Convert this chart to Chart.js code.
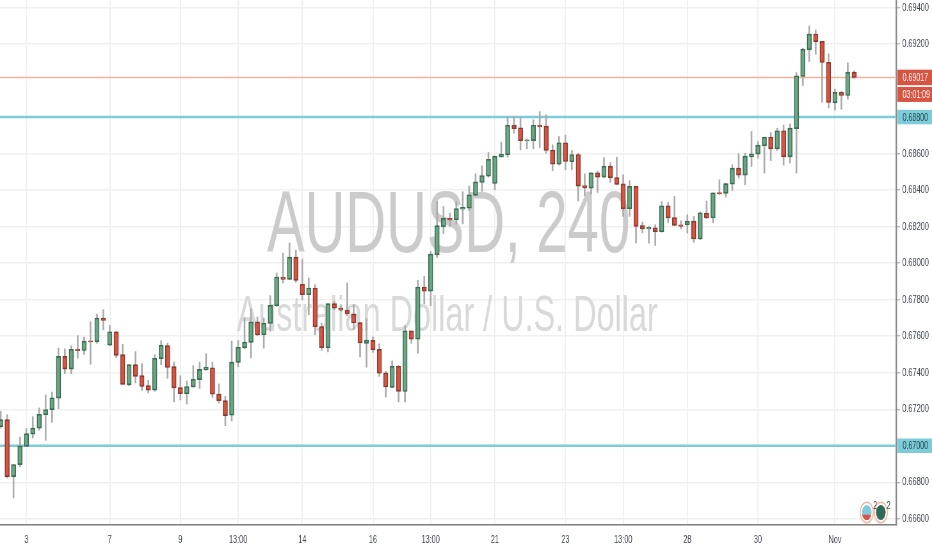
<!DOCTYPE html>
<html>
<head>
<meta charset="utf-8">
<title>AUDUSD, 240</title>
<script src="https://cdn.jsdelivr.net/npm/chart.js@4"></script>
<style>
  html, body { margin: 0; padding: 0; background: #fff; overflow: hidden; width: 932px; height: 550px; }
  /* reference picture is squeezed horizontally, so the whole chart is too */
  #chart { position: absolute; left: 0; top: 0; transform-origin: 0 0; transform: scaleX(0.64011); filter: blur(0.4px); }
</style>
</head>
<body>
<canvas id="chart" width="1456" height="550"></canvas>
<script>
var opens = [
  0.67105,0.67143,0.66831,0.66897,0.66997,0.67064,0.67096,0.67170,0.67198,0.67261,
  0.67489,0.67420,0.67530,0.67522,0.67575,0.67570,0.67699,0.67551,0.67624,0.67499,
  0.67334,0.67444,0.67384,0.67329,0.67305,0.67477,0.67548,0.67433,0.67318,0.67285,
  0.67322,0.67362,0.67415,0.67427,0.67283,0.67247,0.67167,0.67457,0.67537,0.67566,
  0.67678,0.67607,0.67670,0.67767,0.67924,0.67911,0.68033,0.67884,0.67827,0.67864,
  0.67652,0.67537,0.67778,0.67754,0.67743,0.67722,0.67674,0.67561,0.67577,0.67528,
  0.67399,0.67320,0.67435,0.67297,0.67629,0.67583,0.67869,0.67847,0.68046,0.68199,
  0.68245,0.68237,0.68296,0.68301,0.68371,0.68442,0.68476,0.68436,0.68582,0.68593,
  0.68755,0.68741,0.68670,0.68671,0.68755,0.68750,0.68619,0.68542,0.68659,0.68555,
  0.68595,0.68425,0.68411,0.68495,0.68471,0.68531,0.68469,0.68434,0.68298,0.68420,
  0.68205,0.68188,0.68194,0.68172,0.68314,0.68249,0.68210,0.68210,0.68230,0.68132,
  0.68274,0.68247,0.68387,0.68382,0.68433,0.68520,0.68482,0.68582,0.68597,0.68643,
  0.68690,0.68626,0.68725,0.68582,0.68737,0.69022,0.69168,0.69255,0.69215,0.69100,
  0.68878,0.68936,0.68918,0.69046
];
var closes = [
  0.67143,0.66831,0.66897,0.66999,0.67066,0.67097,0.67172,0.67198,0.67263,0.67489,
  0.67420,0.67528,0.67520,0.67573,0.67568,0.67699,0.67686,0.67624,0.67495,0.67336,
  0.67444,0.67380,0.67325,0.67305,0.67479,0.67550,0.67429,0.67316,0.67285,0.67324,
  0.67364,0.67418,0.67429,0.67282,0.67247,0.67165,0.67458,0.67539,0.67568,0.67678,
  0.67607,0.67672,0.67769,0.67924,0.67911,0.68033,0.67906,0.67827,0.67864,0.67652,
  0.67537,0.67778,0.67753,0.67743,0.67722,0.67672,0.67563,0.67579,0.67526,0.67397,
  0.67322,0.67435,0.67298,0.67629,0.67583,0.67869,0.67847,0.68050,0.68205,0.68245,
  0.68237,0.68299,0.68305,0.68374,0.68445,0.68480,0.68569,0.68586,0.68597,0.68755,
  0.68737,0.68671,0.68675,0.68755,0.68746,0.68617,0.68542,0.68659,0.68557,0.68595,
  0.68422,0.68412,0.68495,0.68471,0.68531,0.68467,0.68431,0.68298,0.68420,0.68201,
  0.68187,0.68196,0.68172,0.68314,0.68247,0.68207,0.68201,0.68230,0.68132,0.68276,
  0.68247,0.68385,0.68380,0.68435,0.68520,0.68482,0.68586,0.68599,0.68646,0.68690,
  0.68626,0.68725,0.68582,0.68739,0.69026,0.69171,0.69255,0.69213,0.69099,0.68880,
  0.68936,0.68918,0.69046,0.69017
];
var highs = [
  0.67189,0.67170,0.66897,0.67048,0.67094,0.67159,0.67207,0.67278,0.67294,0.67535,
  0.67530,0.67548,0.67603,0.67595,0.67679,0.67721,0.67745,0.67659,0.67626,0.67555,
  0.67444,0.67515,0.67449,0.67358,0.67499,0.67575,0.67562,0.67458,0.67384,0.67355,
  0.67438,0.67458,0.67504,0.67458,0.67338,0.67271,0.67573,0.67576,0.67700,0.67749,
  0.67705,0.67700,0.67822,0.67946,0.68055,0.68110,0.68070,0.68022,0.67919,0.67882,
  0.67672,0.67778,0.67791,0.67767,0.67891,0.67773,0.67674,0.67696,0.67596,0.67559,
  0.67408,0.67464,0.67439,0.67658,0.67629,0.67906,0.67928,0.68064,0.68338,0.68310,
  0.68274,0.68338,0.68391,0.68423,0.68489,0.68533,0.68606,0.68586,0.68661,0.68799,
  0.68803,0.68799,0.68679,0.68785,0.68830,0.68812,0.68648,0.68693,0.68701,0.68617,
  0.68602,0.68489,0.68496,0.68504,0.68577,0.68551,0.68580,0.68484,0.68451,0.68420,
  0.68225,0.68201,0.68210,0.68338,0.68332,0.68365,0.68232,0.68265,0.68256,0.68280,
  0.68340,0.68385,0.68456,0.68438,0.68539,0.68599,0.68602,0.68721,0.68666,0.68690,
  0.68715,0.68739,0.68756,0.68763,0.69044,0.69177,0.69299,0.69277,0.69215,0.69146,
  0.68953,0.68940,0.69097,0.69053
];
var lows = [
  0.67097,0.66824,0.66714,0.66884,0.66997,0.67043,0.67085,0.67030,0.67128,0.67203,
  0.67395,0.67395,0.67480,0.67500,0.67446,0.67561,0.67635,0.67548,0.67482,0.67334,
  0.67329,0.67344,0.67303,0.67289,0.67298,0.67444,0.67369,0.67240,0.67251,0.67229,
  0.67320,0.67314,0.67413,0.67265,0.67234,0.67110,0.67136,0.67432,0.67530,0.67481,
  0.67603,0.67535,0.67627,0.67763,0.67891,0.67909,0.67895,0.67800,0.67718,0.67608,
  0.67523,0.67514,0.67745,0.67736,0.67712,0.67636,0.67486,0.67430,0.67512,0.67380,
  0.67266,0.67317,0.67240,0.67240,0.67561,0.67506,0.67778,0.67767,0.68031,0.68161,
  0.68201,0.68215,0.68215,0.68287,0.68369,0.68392,0.68471,0.68402,0.68580,0.68580,
  0.68712,0.68620,0.68626,0.68626,0.68633,0.68602,0.68507,0.68538,0.68511,0.68511,
  0.68341,0.68369,0.68380,0.68387,0.68469,0.68442,0.68429,0.68256,0.68256,0.68110,
  0.68165,0.68110,0.68097,0.68170,0.68223,0.68205,0.68188,0.68165,0.68114,0.68128,
  0.68245,0.68221,0.68374,0.68362,0.68398,0.68466,0.68429,0.68529,0.68575,0.68493,
  0.68562,0.68617,0.68537,0.68548,0.68493,0.68973,0.69104,0.69144,0.68881,0.68850,
  0.68838,0.68843,0.68898,0.69011
];

// bottom axis: which candle each label sits under
var timeTicks = [4, 17, 28, 37, 47, 58, 67, 77, 88, 97, 107, 118, 130];
var timeLabels = ["3", "7", "9", "13:00", "14", "16", "13:00", "21", "23", "13:00", "28", "30", "Nov"];
var priceTicks = [0.694, 0.692, 0.686, 0.684, 0.682, 0.68, 0.678, 0.676, 0.674, 0.672, 0.668, 0.666];
var levels = [0.688, 0.670];
var lastPrice = 0.69017;
var countdown = "03:01:09";
var symbol = "AUDUSD, 240";
var symbolName = "Australian Dollar / U.S. Dollar";

var xMin = -0.109, xMax = 139.54;
var upColor = "#6ba583", upBorder = "#3a6f53", downColor = "#d75442", downBorder = "#8f3a2c";
var fontName = '"Liberation Sans", Arial, sans-serif';

var wicks = [], bodies = [], bodyFill = [], bodyLine = [];
for (var i = 0; i < opens.length; i++) {
  var up = closes[i] >= opens[i];
  wicks.push({ x: i, y: [lows[i], highs[i]] });
  bodies.push({ x: i, y: [Math.min(opens[i], closes[i]), Math.max(opens[i], closes[i])] });
  bodyFill.push(up ? upColor : downColor);
  bodyLine.push(up ? upBorder : downBorder);
}

function flatLine(price, color, width) {
  return {
    type: "line",
    data: [{ x: xMin, y: price }, { x: xMax, y: price }],
    borderColor: color,
    borderWidth: width,
    pointRadius: 0,
    order: 3
  };
}

// big grey symbol text behind the candles
var watermark = {
  id: "watermark",
  beforeDatasetsDraw: function (chart) {
    var c = chart.ctx;
    c.save();
    c.textAlign = "center";
    c.textBaseline = "alphabetic";
    c.fillStyle = "#cbcbcb";
    c.font = "88px " + fontName;
    c.fillText(symbol, 701, 252);
    c.fillStyle = "#d9d9d9";
    c.font = "50.6px " + fontName;
    c.fillText(symbolName, 698.6, 331);
    c.restore();
  }
};

function priceBox(c, y, h, fill, text, color) {
  c.fillStyle = fill;
  c.fillRect(1402, y - h / 2, 54, h);
  c.fillStyle = color;
  c.textBaseline = "middle";
  c.fillText(text, 1410, y + 0.5);
}

// labels on the price axis and the two small event flags
var overlays = {
  id: "overlays",
  afterDraw: function (chart) {
    var c = chart.ctx, yScale = chart.scales.y;
    c.save();
    c.font = "11px " + fontName;
    c.textAlign = "left";
    var lastY = yScale.getPixelForValue(lastPrice);
    priceBox(c, lastY, 15.5, "#d75442", lastPrice.toFixed(5), "#ffffff");
    priceBox(c, lastY + 17, 15, "#d75442", countdown, "#ffffff");
    levels.forEach(function (p) {
      priceBox(c, yScale.getPixelForValue(p), 14.5, "#7ecbd9", p.toFixed(5), "#1f4a50");
    });

    [[1354, "#7ecbe0"], [1376, "#2f6a59"]].forEach(function (f) {
      c.beginPath();
      c.arc(f[0], 512.5, 10.2, 0, Math.PI * 2);
      c.strokeStyle = "#f3b5a6";
      c.lineWidth = 1.6;
      c.stroke();
      c.beginPath();
      c.arc(f[0], 512.5, 7.5, 0, Math.PI * 2);
      c.fillStyle = f[1];
      c.fill();
    });
    c.beginPath();
    c.arc(1354, 512.5, 7.5, 0.3, Math.PI - 0.3);
    c.fillStyle = "#d75442";
    c.fill();
    c.fillStyle = "#444";
    c.textBaseline = "middle";
    c.fillText("2", 1364, 506);
    c.fillText("2", 1385, 506);
    c.restore();
  }
};

new Chart(document.getElementById("chart"), {
  type: "bar",
  data: {
    datasets: [
      { data: bodies, backgroundColor: bodyFill, borderColor: bodyLine, borderWidth: 1.6, borderSkipped: false, barThickness: 7, order: 1 },
      { data: wicks, backgroundColor: "#ababab", barThickness: 2, order: 2 },
      flatLine(levels[0], "#7ecbd9", 2.6),
      flatLine(levels[1], "#7ecbd9", 2.6),
      flatLine(lastPrice, "#f7b0a0", 1.4)
    ]
  },
  options: {
    responsive: false,
    animation: false,
    grouped: false,
    layout: { padding: 0 },
    plugins: { legend: { display: false }, tooltip: { enabled: false } },
    scales: {
      x: {
        type: "linear",
        min: xMin,
        max: xMax,
        offset: false,
        afterBuildTicks: function (scale) {
          scale.ticks = timeTicks.map(function (v) { return { value: v }; });
        },
        afterFit: function (scale) {
          scale.height = 25;
          scale.paddingLeft = scale.paddingRight = 0;
        },
        grid: { color: "#f0f0f0", lineWidth: 2, drawTicks: false, offset: false },
        border: { display: true, color: "#7d7d7d", width: 1.4 },
        ticks: {
          autoSkip: false,
          maxRotation: 0,
          padding: 8,
          color: "#3f444e",
          font: { family: fontName, size: 11.5 },
          callback: function (value, index) { return timeLabels[index]; }
        }
      },
      y: {
        position: "right",
        min: 0.66566,
        max: 0.69441,
        afterBuildTicks: function (scale) {
          scale.ticks = priceTicks.map(function (v) { return { value: v }; });
        },
        afterFit: function (scale) {
          scale.width = 56;
          scale.paddingTop = scale.paddingBottom = 0;
        },
        grid: { color: "#f0f0f0", lineWidth: 1.4, tickColor: "#b5b5b5", tickLength: 6 },
        border: { display: true, color: "#8a8a8a", width: 2.4 },
        ticks: {
          padding: 3.5,
          color: "#3f444e",
          font: { family: fontName, size: 11.5 },
          callback: function (value) { return value.toFixed(5); }
        }
      }
    }
  },
  plugins: [watermark, overlays]
});
</script>
</body>
</html>
